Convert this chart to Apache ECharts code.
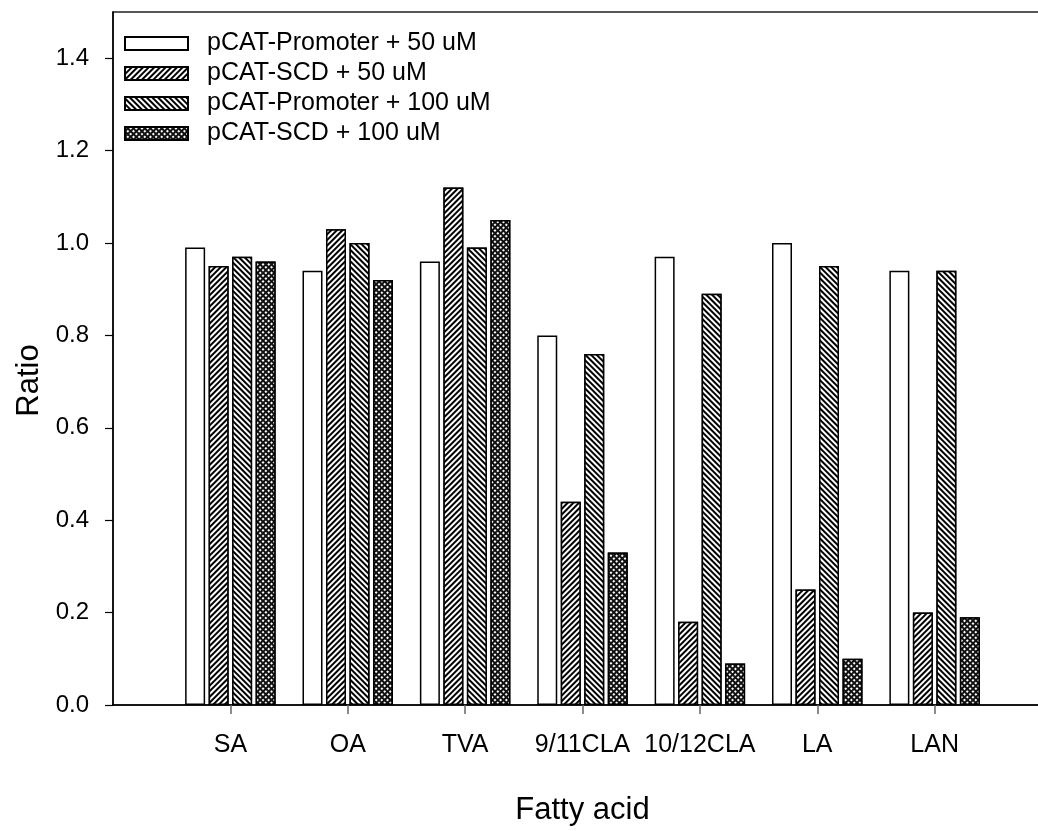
<!DOCTYPE html>
<html>
<head>
<meta charset="utf-8">
<script src="https://cdn.jsdelivr.net/npm/echarts@6/dist/echarts.min.js"></script>
<style>html,body{margin:0;padding:0;background:#fff;}#c{width:1038px;height:831px;}</style>
</head>
<body>
<div id="c"></div>
<script>
const categories = ['SA', 'OA', 'TVA', '9/11CLA', '10/12CLA', 'LA', 'LAN'];
const seriesNames = ['pCAT-Promoter + 50 uM', 'pCAT-SCD + 50 uM', 'pCAT-Promoter + 100 uM', 'pCAT-SCD + 100 uM'];
const promoter50 = [0.99, 0.94, 0.96, 0.80, 0.97, 1.00, 0.94];
const scd50      = [0.95, 1.03, 1.12, 0.44, 0.18, 0.25, 0.20];
const promoter100= [0.97, 1.00, 0.99, 0.76, 0.89, 0.95, 0.94];
const scd100     = [0.96, 0.92, 1.05, 0.33, 0.09, 0.10, 0.19];
const yTicks = [0, 0.2, 0.4, 0.6, 0.8, 1.0, 1.2, 1.4];
const categoryPositions = [1, 2, 3, 4, 5, 6, 7];

const FONT = '"Liberation Sans", Arial, sans-serif';
const decals = [
  null,
  { symbol: 'rect', color: '#000', backgroundColor: '#fff', dashArrayX: [1, 0], dashArrayY: [1.5, 1.7], rotation: -Math.PI / 4 },
  { symbol: 'rect', color: '#000', backgroundColor: '#fff', dashArrayX: [1, 0], dashArrayY: [1.5, 1.7], rotation: Math.PI / 4 },
  { symbol: 'rect', color: '#fff', backgroundColor: '#111', dashArrayX: [1.6, 1.6], dashArrayY: [1.6, 1.6], rotation: Math.PI / 4 }
];
const values = [promoter50, scd50, promoter100, scd100];

const chart = echarts.init(document.getElementById('c'), null, { renderer: 'canvas' });
chart.setOption({
  backgroundColor: '#fff',
  animation: false,
  grid: { left: 113, right: -14, top: 12, bottom: 126, outerBoundsMode: 'none', containLabel: false, show: true, borderColor: '#222', borderWidth: 1.5, backgroundColor: 'transparent' },
  legend: {
    orient: 'vertical', left: 119, top: 26,
    itemWidth: 63, itemHeight: 13, itemGap: 5,
    data: seriesNames,
    textStyle: { fontFamily: FONT, fontSize: 25, color: '#000', lineHeight: 24, padding: [0, 0, 0, 14] },
    icon: 'rect'
  },
  xAxis: {
    type: 'value', min: 0, max: 8, interval: 1,
    name: 'Fatty acid', nameLocation: 'middle', nameGap: 90,
    nameTextStyle: { fontFamily: FONT, fontSize: 31, color: '#000' },
    axisLine: { show: true, lineStyle: { color: '#000', width: 1.5 } },
    axisTick: { show: true, inside: false, length: 9, lineStyle: { color: '#666', width: 1.5 }, customValues: categoryPositions },
    axisLabel: { show: true, margin: 28, fontFamily: FONT, fontSize: 25, color: '#000', hideOverlap: false, customValues: categoryPositions, formatter: v => categories[Math.round(v) - 1] || '' },
    splitLine: { show: false }
  },
  yAxis: {
    type: 'value', min: 0, max: 1.5,
    name: 'Ratio', nameLocation: 'middle', nameGap: 67, nameRotate: 90,
    nameTextStyle: { fontFamily: FONT, fontSize: 31, color: '#000', padding: [0, 44, 0, 0] },
    axisLine: { show: true, lineStyle: { color: '#000', width: 1.5 } },
    axisTick: { show: true, inside: false, length: 8, lineStyle: { color: '#000', width: 1.2 }, customValues: yTicks },
    axisLabel: { show: true, margin: 24, fontFamily: FONT, fontSize: 24, color: '#000', customValues: yTicks, formatter: v => v.toFixed(1) },
    splitLine: { show: false }
  },
  series: values.map((arr, i) => ({
    name: seriesNames[i],
    type: 'bar',
    barWidth: 20,
    barGap: '17.5%',
    data: arr.map((v, j) => [categoryPositions[j], v]),
    itemStyle: Object.assign({ color: '#fff', borderColor: '#000', borderWidth: 1.5 }, decals[i] ? { decal: decals[i] } : {})
  }))
});
</script>
</body>
</html>
